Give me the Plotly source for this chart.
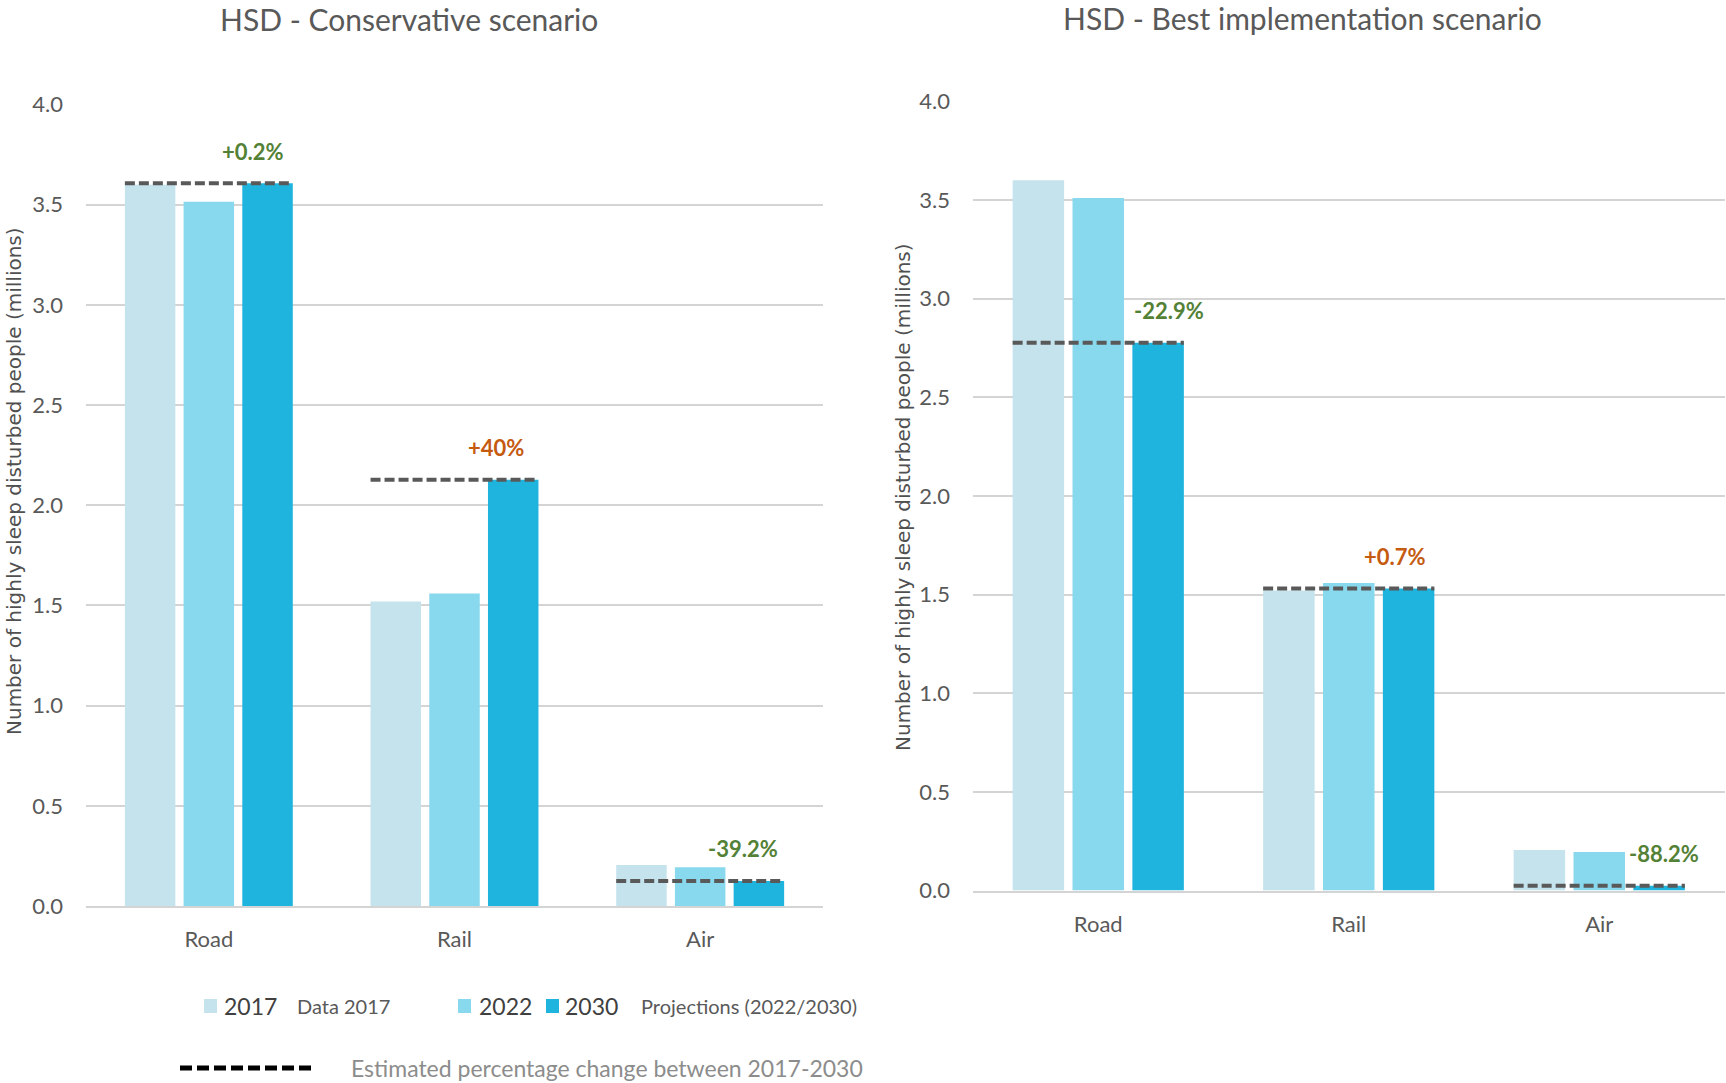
import plotly.graph_objects as go

W, H = 1726, 1083

categories = ["Road", "Rail", "Air"]
years = ["2017", "2022", "2030"]

# Highly sleep disturbed people (millions)
conservative_2017 = [3.60, 1.52, 0.205]
conservative_2022 = [3.515, 1.56, 0.193]
conservative_2030 = [3.607, 2.128, 0.125]
conservative_change = ["+0.2%", "+40%", "-39.2%"]

best_2017 = [3.60, 1.52, 0.205]
best_2022 = [3.51, 1.558, 0.195]
best_2030 = [2.776, 1.531, 0.024]
best_change = ["-22.9%", "+0.7%", "-88.2%"]

bar_colors = ["#C4E3EC", "#88D8EE", "#1FB4DE"]
GREEN, ORANGE = "#538135", "#C55A11"
conservative_label_colors = [GREEN, ORANGE, GREEN]
best_label_colors = [GREEN, ORANGE, GREEN]

FONT = "Lato, 'Open Sans', sans-serif"
TEXT_GREY = "#595959"
BARGAP, GROUPGAP = 0.283, 0.14


def px_x(p):
    return p / W


def px_y(p):
    return 1 - p / H


fig = go.Figure()

panels = [
    dict(xa="x", ya="y", series=[conservative_2017, conservative_2022, conservative_2030],
         change=conservative_change, colors=conservative_label_colors,
         xshift=[44, 41, 43]),
    dict(xa="x2", ya="y2", series=[best_2017, best_2022, best_2030],
         change=best_change, colors=best_label_colors,
         xshift=[71, 46, 65]),
]

# half-width of a bar group (left edge of first bar to right edge of last bar)
slot = (1 - BARGAP) / 3
half_group = (1 - BARGAP) / 2 - slot * GROUPGAP / 2

annotations = []
shapes = []

for panel in panels:
    for yr, vals, col in zip(years, panel["series"], bar_colors):
        fig.add_trace(go.Bar(
            x=categories, y=vals, name=yr, marker=dict(color=col, line=dict(width=0)),
            xaxis=panel["xa"], yaxis=panel["ya"], showlegend=False,
            hovertemplate="%{x} " + yr + ": %{y:.2f}M<extra></extra>",
        ))
    final = panel["series"][2]
    for i, (cat, v) in enumerate(zip(categories, final)):
        shapes.append(dict(
            type="line", xref=panel["xa"], yref=panel["ya"],
            x0=i - half_group, x1=i + half_group, y0=v, y1=v,
            line=dict(color="#595959", width=4, dash="10px,4px"), layer="above",
        ))
        annotations.append(dict(
            x=cat, y=v, xref=panel["xa"], yref=panel["ya"],
            text="<b>%s</b>" % panel["change"][i], showarrow=False,
            xshift=panel["xshift"][i], yshift=32, yanchor="middle",
            font=dict(family=FONT, size=22, color=panel["colors"][i]),
        ))

# panel titles
for txt, cx, cy in [("HSD - Conservative scenario", 409, 19),
                    ("HSD - Best implementation scenario", 1302, 18)]:
    annotations.append(dict(
        x=px_x(cx), y=px_y(cy), xref="paper", yref="paper", text=txt,
        showarrow=False, xanchor="center", yanchor="middle",
        font=dict(family=FONT, size=30, color=TEXT_GREY),
    ))

# y-axis titles
YTITLE = "Number of highly sleep disturbed people (millions)"
for cx, cy in [(14, 481), (903, 497)]:
    annotations.append(dict(
        x=px_x(cx), y=px_y(cy), xref="paper", yref="paper", text=YTITLE,
        textangle=-90, showarrow=False, xanchor="center", yanchor="middle",
        font=dict(family="'DejaVu Sans', sans-serif", size=20, color="#505050"),
    ))

# legend, row 1: colour swatches and captions
LEG_Y = 1006
for x0, col in [(204, bar_colors[0]), (458, bar_colors[1]), (546, bar_colors[2])]:
    shapes.append(dict(
        type="rect", xref="paper", yref="paper",
        x0=px_x(x0), x1=px_x(x0 + 13), y0=px_y(LEG_Y - 7), y1=px_y(LEG_Y + 7),
        fillcolor=col, line=dict(width=0),
    ))
for txt, x0, size, col in [("2017", 222, 23, "#404040"),
                           ("Data 2017", 295, 20, TEXT_GREY),
                           ("2022", 477, 23, "#404040"),
                           ("2030", 563, 23, "#404040"),
                           ("Projections (2022/2030)", 639, 20, TEXT_GREY)]:
    annotations.append(dict(
        x=px_x(x0), y=px_y(LEG_Y), xref="paper", yref="paper", text=txt,
        showarrow=False, xanchor="left", yanchor="middle",
        font=dict(family=FONT, size=size, color=col),
    ))

# legend, row 2: dashed line key
LEG_Y2 = 1068
shapes.append(dict(
    type="line", xref="paper", yref="paper",
    x0=px_x(180), x1=px_x(314), y0=px_y(LEG_Y2), y1=px_y(LEG_Y2),
    line=dict(color="#000000", width=5, dash="12px,5px"),
))
annotations.append(dict(
    x=px_x(349), y=px_y(LEG_Y2), xref="paper", yref="paper",
    text="Estimated percentage change between 2017-2030",
    showarrow=False, xanchor="left", yanchor="middle",
    font=dict(family=FONT, size=23, color="#8C8C8C"),
))

yaxis_common = dict(
    range=[0, 4], tickvals=[0, 0.5, 1, 1.5, 2, 2.5, 3, 3.5, 4],
    ticktext=["0.0", "0.5", "1.0", "1.5", "2.0", "2.5", "3.0", "3.5", "4.0"],
    showgrid=True, gridcolor="#D4D4D4", gridwidth=1.5, zeroline=False,
    showline=False, ticks="", ticklabelstandoff=22, automargin=False,
    tickfont=dict(family=FONT, size=22, color=TEXT_GREY), fixedrange=True,
)
xaxis_common = dict(
    type="category", categoryorder="array", categoryarray=categories,
    showgrid=False, zeroline=False, showline=True, linecolor="#D4D4D4",
    linewidth=1.5, ticks="", ticklabelstandoff=13, automargin=False,
    tickfont=dict(family=FONT, size=22, color=TEXT_GREY), fixedrange=True,
)

fig.update_layout(
    width=W, height=H, margin=dict(l=0, r=0, t=0, b=0, autoexpand=False),
    paper_bgcolor="white", plot_bgcolor="white",
    barmode="group", bargap=BARGAP, bargroupgap=GROUPGAP,
    showlegend=False,
    xaxis=dict(domain=[px_x(86), px_x(823)], anchor="y", **xaxis_common),
    yaxis=dict(domain=[px_y(906), px_y(104.6)], anchor="x", **yaxis_common),
    xaxis2=dict(domain=[px_x(973), px_x(1724.5)], anchor="y2", **xaxis_common),
    yaxis2=dict(domain=[px_y(890.5), px_y(101.3)], anchor="x2", **yaxis_common),
    shapes=shapes, annotations=annotations,
)

fig.write_html("out.html", config={"displayModeBar": False})
